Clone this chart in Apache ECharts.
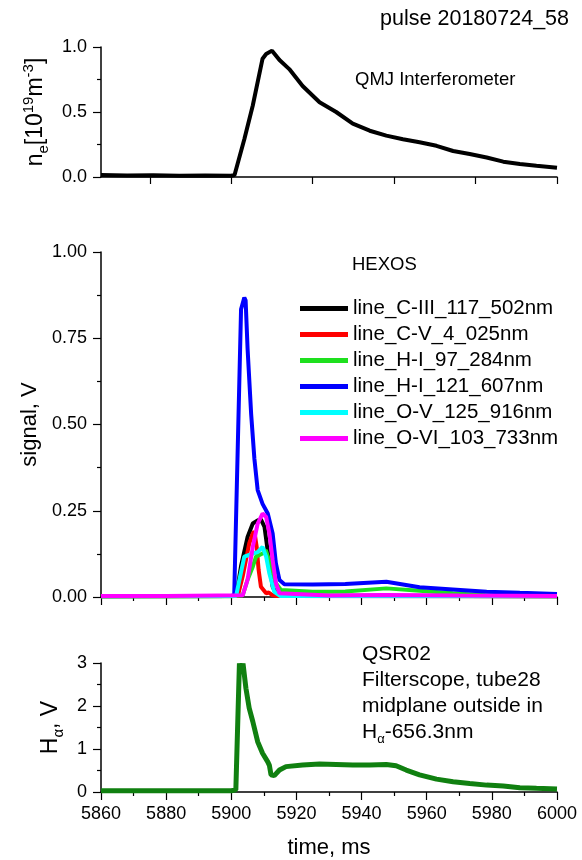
<!DOCTYPE html>
<html>
<head>
<meta charset="utf-8">
<script src="https://cdn.jsdelivr.net/npm/echarts@6/dist/echarts.min.js"></script>
<style>
  html, body { margin: 0; padding: 0; background: #fff; }
  #chart { width: 582px; height: 860px; }
</style>
</head>
<body>
<div id="chart"></div>
<script>
// x range shared by all three panels
const timeMin = 5860;
const timeMax = 6000;
const topTicks = [5875, 5900, 5925, 5950, 5975, 6000];

// QMJ interferometer, n_e [1e19 m^-3]
const neTime = [5860, 5868, 5876, 5884, 5892, 5900, 5901, 5904, 5906.6, 5909.6, 5910.7, 5912.5, 5914.8, 5917.8, 5921.9, 5927.1, 5932.2, 5937.3, 5942.5, 5947.6, 5952.7, 5957.8, 5963, 5968.1, 5973.2, 5978.4, 5983.5, 5988.6, 5993.7, 6000];
const neVal  = [0.015, 0.012, 0.013, 0.01, 0.012, 0.01, 0.015, 0.29, 0.55, 0.91, 0.946, 0.972, 0.90, 0.83, 0.70, 0.575, 0.50, 0.41, 0.356, 0.318, 0.29, 0.267, 0.24, 0.20, 0.177, 0.15, 0.118, 0.10, 0.087, 0.072];

// HEXOS lines, signal V
const hexosNames = ['line_C-III_117_502nm', 'line_C-V_4_025nm', 'line_H-I_97_284nm', 'line_H-I_121_607nm', 'line_O-V_125_916nm', 'line_O-VI_103_733nm'];
const hexosColors = ['#000000', '#ff0000', '#1ee01e', '#0000ff', '#00ffff', '#ff00ff'];

const c3Time = [5860, 5901.5, 5903, 5905, 5906.6, 5908.1, 5909.1, 5910.2, 5911.7, 5912.7, 5914, 6000];
const c3Val  = [0.002, 0.003, 0.09, 0.174, 0.213, 0.222, 0.225, 0.203, 0.097, 0.03, 0.004, 0.002];

const c5Time = [5860, 5902, 5903.5, 5905.5, 5906.6, 5907.1, 5907.8, 5908.4, 5909.1, 5910.7, 5911.5, 5912.5, 5914, 6000];
const c5Val  = [0.002, 0.003, 0.06, 0.155, 0.184, 0.19, 0.145, 0.078, 0.03, 0.011, 0.013, 0.006, 0.003, 0.002];

const h97Time = [5860, 5900, 5903.5, 5905, 5906.6, 5907.6, 5909.6, 5910.6, 5912.2, 5913.7, 5915.3, 5925, 5935, 5947.6, 5957.8, 5968, 5978, 6000];
const h97Val  = [0.002, 0.002, 0.005, 0.05, 0.088, 0.117, 0.126, 0.136, 0.088, 0.04, 0.02, 0.015, 0.016, 0.025, 0.018, 0.011, 0.005, 0.003];

const h121Time = [5860, 5880, 5900, 5900.9, 5903, 5904, 5904.4, 5905, 5906.1, 5907.1, 5908.1, 5909.6, 5911.2, 5912.7, 5913.7, 5914.8, 5916.3, 5925, 5935, 5947.6, 5957.8, 5968, 5978.4, 5988.6, 6000];
const h121Val  = [0.003, 0.003, 0.003, 0.005, 0.834, 0.868, 0.86, 0.72, 0.53, 0.40, 0.31, 0.27, 0.242, 0.184, 0.097, 0.049, 0.037, 0.036, 0.038, 0.044, 0.028, 0.022, 0.015, 0.012, 0.009];

const o5Time = [5860, 5901.5, 5902.5, 5904, 5906.6, 5908.1, 5909.6, 5910.7, 5911.7, 5913.2, 5915, 6000];
const o5Val  = [0.002, 0.003, 0.05, 0.117, 0.126, 0.13, 0.145, 0.117, 0.068, 0.015, 0.003, 0.002];

const o6Time = [5860, 5880, 5903.5, 5905, 5906.6, 5908.1, 5909.6, 5910.7, 5911.7, 5912.7, 5913.7, 5914.8, 5930, 5947, 5970, 6000];
const o6Val  = [0.003, 0.003, 0.005, 0.05, 0.145, 0.213, 0.242, 0.232, 0.184, 0.107, 0.04, 0.011, 0.004, 0.006, 0.004, 0.003];

// QSR02 filterscope H-alpha, V
const haTime = [5860, 5880, 5900, 5901.4, 5902.5, 5903, 5903.6, 5904.5, 5905.5, 5906.6, 5908.1, 5909.6, 5911.2, 5911.7, 5912.2, 5913.2, 5914.8, 5916.8, 5921.9, 5927.1, 5932.2, 5937.3, 5942.5, 5947.6, 5950.6, 5953.7, 5957.8, 5963, 5968.1, 5973.2, 5978.4, 5983.5, 5988.6, 5993.7, 6000];
const haVal  = [0.03, 0.03, 0.03, 0.05, 2.99, 2.75, 2.99, 2.41, 1.95, 1.64, 1.17, 0.9, 0.70, 0.62, 0.40, 0.38, 0.51, 0.59, 0.63, 0.65, 0.64, 0.63, 0.63, 0.64, 0.61, 0.51, 0.40, 0.30, 0.24, 0.20, 0.16, 0.14, 0.10, 0.085, 0.07];

const zip = (xs, ys) => xs.map((x, i) => [x, ys[i]]);

const FONT = "'Liberation Sans', Arial, sans-serif";
const chart = echarts.init(document.getElementById('chart'), null, { renderer: 'canvas' });

const baseX = (idx, showLabel) => ({
    type: 'value',
    gridIndex: idx,
    min: timeMin,
    max: timeMax,
    interval: 20,
    axisLine: { show: true, onZero: false, lineStyle: { color: '#000', width: 1.5 } },
    axisTick: { show: true, inside: false, length: 8, lineStyle: { color: '#000', width: 1.2 } },
    minorTick: { show: true, splitNumber: 2, length: 4, lineStyle: { color: '#000', width: 1.2 } },
    splitLine: { show: false },
    axisLabel: {
        show: showLabel,
        color: '#000',
        fontSize: 18,
        fontFamily: FONT,
        margin: 13,
        formatter: v => String(Math.round(v))
    }
});

const baseY = (idx, max, interval, digits) => ({
    type: 'value',
    gridIndex: idx,
    min: 0,
    max: max,
    interval: interval,
    nameLocation: 'middle',
    nameRotate: 90,
    axisLine: { show: true, onZero: false, lineStyle: { color: '#000', width: 1.5 } },
    axisTick: { show: true, inside: false, length: 8, lineStyle: { color: '#000', width: 1.2 } },
    minorTick: { show: true, splitNumber: 2, length: 4, lineStyle: { color: '#000', width: 1.2 } },
    splitLine: { show: false },
    axisLabel: {
        color: '#000',
        fontSize: 18,
        fontFamily: FONT,
        margin: 14,
        formatter: v => v.toFixed(digits)
    }
});

const nameRich = {
    b: { fontSize: 23, fontFamily: FONT, color: '#000', lineHeight: 30 },
    sub: { fontSize: 15, fontFamily: FONT, color: '#000', verticalAlign: 'bottom', lineHeight: 30 },
    sup: { fontSize: 15, fontFamily: FONT, color: '#000', verticalAlign: 'top', lineHeight: 30 }
};

const xTop = baseX(0, false);
xTop.axisTick = { show: true, inside: false, length: 7, customValues: topTicks, lineStyle: { color: '#000', width: 1.2 } };
xTop.minorTick = { show: false };

const yTop = baseY(0, 1, 0.5, 1);
yTop.name = '{b|n}{sub|e}{b|[10}{sup|19}{b|m}{sup|-3}{b|]}';
yTop.nameGap = 50;
yTop.nameTextStyle = { fontSize: 23, fontFamily: FONT, color: '#000', rich: nameRich };

const yMid = baseY(1, 1, 0.25, 2);
yMid.name = 'signal, V';
yMid.nameGap = 58;
yMid.nameTextStyle = { fontSize: 22, fontFamily: FONT, color: '#000' };

const yBot = baseY(2, 3, 1, 0);
yBot.name = '{b|H}{sub|α}{b|, V}';
yBot.nameGap = 33;
yBot.nameTextStyle = { fontSize: 23, fontFamily: FONT, color: '#000', rich: nameRich };

const xBot = baseX(2, true);
xBot.name = 'time, ms';
xBot.nameLocation = 'middle';
xBot.nameGap = 45;
xBot.nameTextStyle = { fontSize: 22, fontFamily: FONT, color: '#000' };

const hexosData = [
    zip(c3Time, c3Val), zip(c5Time, c5Val), zip(h97Time, h97Val),
    zip(h121Time, h121Val), zip(o5Time, o5Val), zip(o6Time, o6Val)
];

const series = [{
    name: 'ne',
    type: 'line',
    xAxisIndex: 0,
    yAxisIndex: 0,
    symbol: 'none',
    data: zip(neTime, neVal),
    lineStyle: { color: '#000', width: 4 },
    itemStyle: { color: '#000' }
}];

hexosNames.forEach((n, i) => {
    series.push({
        name: n,
        type: 'line',
        xAxisIndex: 1,
        yAxisIndex: 1,
        symbol: 'none',
        data: hexosData[i],
        lineStyle: { color: hexosColors[i], width: 4 },
        itemStyle: { color: hexosColors[i] }
    });
});

series.push({
    name: 'Halpha',
    type: 'line',
    xAxisIndex: 2,
    yAxisIndex: 2,
    symbol: 'none',
    data: zip(haTime, haVal),
    lineStyle: { color: '#108010', width: 5 },
    itemStyle: { color: '#108010' }
});

const textStyle = (x, y, text, size, extra) => ({
    type: 'text',
    x: x,
    y: y,
    style: Object.assign({
        text: text,
        font: size + 'px ' + FONT,
        fill: '#000',
        verticalAlign: 'middle'
    }, extra || {})
});

const option = {
    animation: false,
    backgroundColor: '#fff',
    grid: [
        { left: 101, right: 25, top: 47, height: 130 },
        { left: 101, right: 25, top: 252, height: 345 },
        { left: 101, right: 25, top: 663, height: 129 }
    ],
    xAxis: [xTop, baseX(1, false), xBot],
    yAxis: [yTop, yMid, yBot],
    legend: {
        data: hexosNames,
        orient: 'vertical',
        left: 300,
        top: 298,
        padding: 0,
        itemGap: 5,
        itemWidth: 48,
        itemHeight: 5,
        icon: 'rect',
        selectedMode: false,
        textStyle: { fontSize: 20.5, fontFamily: FONT, color: '#000', lineHeight: 20 }
    },
    graphic: [
        textStyle(569, 19, 'pulse 20180724_58', 21.5, { align: 'right' }),
        textStyle(355, 80, 'QMJ Interferometer', 18.5),
        textStyle(352, 265, 'HEXOS', 18.5),
        textStyle(362, 654, 'QSR02', 21),
        textStyle(362, 680, 'Filterscope, tube28', 21),
        textStyle(362, 706, 'midplane outside in', 21),
        {
            type: 'text',
            x: 362,
            y: 732,
            style: {
                text: '{b|H}{sub|α}{b|-656.3nm}',
                verticalAlign: 'middle',
                rich: {
                    b: { fontSize: 21, fontFamily: FONT, fill: '#000', lineHeight: 28 },
                    sub: { fontSize: 13, fontFamily: FONT, fill: '#000', verticalAlign: 'bottom', lineHeight: 28 }
                }
            }
        }
    ],
    series: series
};

chart.setOption(option);
</script>
</body>
</html>
